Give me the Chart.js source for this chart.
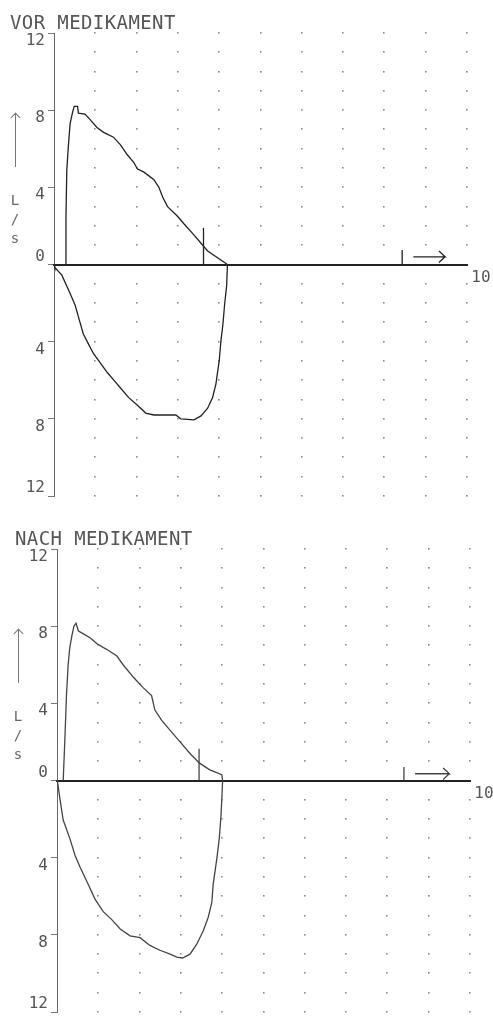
<!DOCTYPE html>
<html>
<head>
<meta charset="utf-8">
<script src="https://cdn.jsdelivr.net/npm/chart.js@4.4.1/dist/chart.umd.min.js"></script>
<style>
    html, body { margin: 0; padding: 0; background: #fff; overflow: hidden; width: 493px; height: 1018px; }
    .panel { position: absolute; width: 493px; height: 515px; }
    .title { position: absolute; left: 10px; top: 13px; font: 19px 'DejaVu Sans Mono', monospace; line-height: 19px; color: #555; white-space: pre; letter-spacing: 0.4px; }
    .unit { position: absolute; left: 9px; width: 12px; text-align: center; font: 14px 'DejaVu Sans Mono', monospace; line-height: 14px; color: #666; }
    .arrow { position: absolute; left: 15px; top: 113px; height: 54px; border-left: 1px solid #777; }
    .arrow:before { content: ''; position: absolute; left: -4.5px; top: 1px; width: 6px; height: 6px; border-left: 1px solid #777; border-top: 1px solid #777; transform: rotate(45deg); }
</style>
</head>
<body>
<div class="panel" style="left:0;top:0">
    <canvas id="chartVor"></canvas>
    <div class="title">VOR MEDIKAMENT</div>
    <div class="arrow"></div>
    <div class="unit" style="top:193px">L</div>
    <div class="unit" style="top:212px">/</div>
    <div class="unit" style="top:231px">s</div>
</div>
<div class="panel" style="left:3px;top:516px">
    <canvas id="chartNach"></canvas>
    <div class="title" style="left:12px">NACH MEDIKAMENT</div>
    <div class="arrow"></div>
    <div class="unit" style="top:193px">L</div>
    <div class="unit" style="top:212px">/</div>
    <div class="unit" style="top:231px">s</div>
</div>
<script>
// volume (L) and flow (L/s)
const vorExpVol  = [0.27, 0.29, 0.31, 0.35, 0.39, 0.45, 0.49, 0.57, 0.59, 0.75, 0.88, 1.04, 1.2, 1.44, 1.61, 1.77, 1.93, 2.02, 2.17, 2.42, 2.54, 2.63, 2.75, 2.99, 3.15, 3.36, 3.56, 3.72, 3.96, 4.2];
const vorExpFlow = [0, 2.5, 4.9, 6.2, 7.3, 7.9, 8.2, 8.2, 7.85, 7.8, 7.5, 7.1, 6.85, 6.6, 6.2, 5.7, 5.3, 4.95, 4.8, 4.4, 4.0, 3.5, 3.0, 2.5, 2.1, 1.6, 1.1, 0.7, 0.35, 0];
const vorInspVol  = [0, 0.02, 0.19, 0.39, 0.51, 0.63, 0.71, 0.83, 0.95, 1.12, 1.29, 1.49, 1.61, 1.81, 2.02, 2.22, 2.42, 2.66, 2.95, 3.07, 3.39, 3.56, 3.72, 3.84, 3.92, 4.0, 4.04, 4.09, 4.13, 4.18, 4.2];
const vorInspFlow = [0, -0.15, -0.55, -1.5, -2.1, -3.0, -3.6, -4.1, -4.6, -5.1, -5.6, -6.1, -6.4, -6.9, -7.3, -7.7, -7.8, -7.8, -7.8, -8.0, -8.05, -7.85, -7.45, -6.9, -6.2, -5.0, -4.0, -3.1, -2.1, -1.1, 0];
const vorMarkVol  = [3.62, 3.62];
const vorMarkFlow = [0, 1.9];
// volume arrow: tick, gap (null), shaft, head
const vorArrowVol  = [8.43, 8.43, 8.5, 8.7, 9.47, 9.32, 9.47, 9.32];
const vorArrowFlow = [0, 0.75, null, 0.4, 0.4, 0.7, 0.4, 0.1];

const nachExpVol  = [0.15, 0.19, 0.23, 0.27, 0.31, 0.36, 0.41, 0.46, 0.52, 0.64, 0.8, 0.96, 1.2, 1.45, 1.6, 1.85, 2.09, 2.29, 2.37, 2.54, 2.74, 2.98, 3.22, 3.45, 3.7, 3.99, 4.01];
const nachExpFlow = [0, 2.1, 4.45, 6.0, 6.9, 7.5, 8.0, 8.15, 7.75, 7.6, 7.4, 7.1, 6.8, 6.45, 6.0, 5.35, 4.8, 4.4, 3.65, 3.1, 2.6, 2.0, 1.4, 0.9, 0.55, 0.3, 0];
const nachInspVol  = [0.01, 0.06, 0.15, 0.31, 0.44, 0.56, 0.76, 0.92, 1.12, 1.32, 1.53, 1.77, 2.01, 2.25, 2.49, 2.74, 2.9, 3.04, 3.22, 3.38, 3.54, 3.66, 3.75, 3.78, 3.87, 3.93, 3.97, 3.99, 4.01];
const nachInspFlow = [0, -0.8, -2.05, -3.0, -3.9, -4.5, -5.4, -6.15, -6.8, -7.2, -7.7, -8.05, -8.15, -8.55, -8.8, -9.0, -9.15, -9.2, -9.0, -8.5, -7.8, -7.1, -6.3, -5.4, -4.05, -3.0, -1.85, -1.0, 0];
const nachMarkVol  = [3.44, 3.44];
const nachMarkFlow = [0, 1.65];
const nachArrowVol  = [8.4, 8.4, 8.5, 8.67, 9.5, 9.35, 9.5, 9.35];
const nachArrowFlow = [0, 0.7, null, 0.35, 0.35, 0.65, 0.35, 0.05];

const flowTicks = [12, 8, 4, 0, -4, -8, -12];
const volTickShown = 10;

const dotGrid = {
    id: 'dotGrid',
    beforeDatasetsDraw(chart) {
        const { ctx, scales: { x, y } } = chart;
        ctx.save();
        ctx.fillStyle = '#8c8c8c';
        for (let v = 1; v <= x.max; v++) {
            for (let f = y.min; f <= y.max; f++) {
                if (f === 0) continue;
                ctx.fillRect(Math.round(x.getPixelForValue(v)) - 1, Math.round(y.getPixelForValue(f)) - 1, 1.6, 1.6);
            }
        }
        ctx.restore();
    }
};

function toPoints(xs, ys) {
    return xs.map((v, i) => ({ x: v, y: ys[i] }));
}

function makePanel(id, series, lineColor) {
    const datasets = series.map(s => ({
        data: toPoints(s[0], s[1]),
        borderColor: lineColor,
        borderWidth: 1.3,
        pointRadius: 0,
        tension: 0,
        fill: false,
        spanGaps: false
    }));
    const tickFont = { family: "'DejaVu Sans Mono', monospace", size: 16, lineHeight: 1 };

    return new Chart(document.getElementById(id), {
        type: 'line',
        data: { datasets: datasets },
        options: {
            responsive: true,
            maintainAspectRatio: false,
            animation: false,
            layout: { padding: { left: 0, top: 33, right: 26, bottom: 10 } },
            plugins: { legend: { display: false }, tooltip: { enabled: false } },
            scales: {
                x: {
                    type: 'linear',
                    position: { y: 0 },
                    min: 0,
                    max: 10,
                    grid: { drawOnChartArea: false, drawTicks: false },
                    border: { color: '#222', width: 2 },
                    ticks: {
                        stepSize: 1,
                        autoSkip: false,
                        maxRotation: 0,
                        labelOffset: 14,
                        padding: 5,
                        font: tickFont,
                        color: '#555',
                        callback: v => v === volTickShown ? String(v) : ''
                    }
                },
                y: {
                    type: 'linear',
                    position: 'left',
                    min: -12,
                    max: 12,
                    afterFit: s => { s.width = 54; },
                    afterBuildTicks: s => { s.ticks = flowTicks.map(v => ({ value: v })); },
                    grid: { drawOnChartArea: false, drawTicks: true, tickLength: 6, color: '#777' },
                    border: { color: '#666', width: 1, dash: [2, 1] },
                    ticks: {
                        padding: 3,
                        font: tickFont,
                        color: '#555',
                        callback: v => {
                            const s = String(Math.abs(v));
                            return (v === 0 || v === -12) ? [s, ''] : ['', s];
                        }
                    }
                }
            }
        },
        plugins: [dotGrid]
    });
}

makePanel('chartVor', [
    [vorExpVol, vorExpFlow],
    [vorInspVol, vorInspFlow],
    [vorMarkVol, vorMarkFlow],
    [vorArrowVol, vorArrowFlow]
], '#222');

makePanel('chartNach', [
    [nachExpVol, nachExpFlow],
    [nachInspVol, nachInspFlow],
    [nachMarkVol, nachMarkFlow],
    [nachArrowVol, nachArrowFlow]
], '#444');
</script>
</body>
</html>
